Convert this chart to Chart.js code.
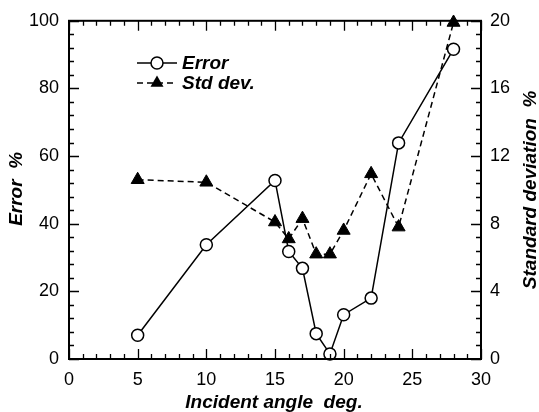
<!DOCTYPE html>
<html>
<head>
<meta charset="utf-8">
<script src="https://cdn.jsdelivr.net/npm/chart.js@4/dist/chart.umd.min.js"></script>
<style>
html,body{margin:0;padding:0;background:#fff;}
#wrap{width:539px;height:412px;position:relative;}
</style>
</head>
<body>
<div id="wrap"><canvas id="c" width="539" height="412"></canvas></div>
<script>
const angles = [5, 10, 15, 16, 17, 18, 19, 20, 22, 24, 28];
const errorValues = [7.0, 33.8, 52.8, 31.8, 26.8, 7.5, 1.5, 13.1, 18.0, 63.9, 91.6];
const stdValues = [10.6, 10.45, 8.1, 7.1, 8.3, 6.2, 6.2, 7.6, 10.95, 7.8, 19.9];
const xTicks = [0, 5, 10, 15, 20, 25, 30];
const leftTicks = [0, 20, 40, 60, 80, 100];
const rightTicks = [0, 4, 8, 12, 16, 20];
const seriesNames = ['Error', 'Std dev.'];
const xTitle = 'Incident angle  deg.';
const yTitle = 'Error  %';
const y2Title = 'Standard deviation  %';

const FONT = '"Liberation Sans", Arial, sans-serif';

const decor = {
  id: 'decor',
  afterDraw(chart) {
    const ctx = chart.ctx;
    const a = chart.chartArea;
    const sx = chart.scales.x, sy = chart.scales.y, sy2 = chart.scales.y2;
    ctx.save();
    ctx.strokeStyle = '#000';
    // ticks
    ctx.lineWidth = 1.3;
    ctx.beginPath();
    for (let v = 0; v <= 30; v += 1) {
      const px = Math.round(sx.getPixelForValue(v)) + 0.5;
      const len = (v % 5 === 0) ? 10 : 5;
      ctx.moveTo(px, a.bottom); ctx.lineTo(px, a.bottom - len);
      ctx.moveTo(px, a.top); ctx.lineTo(px, a.top + len);
    }
    for (let v = 0; v <= 100; v += 4) {
      const py = Math.round(sy.getPixelForValue(v)) + 0.5;
      const len = (v % 20 === 0) ? 10 : 5;
      ctx.moveTo(a.left, py); ctx.lineTo(a.left + len, py);
    }
    for (let i = 0; i <= 25; i++) {
      const v = i * 0.8;
      const py = Math.round(sy2.getPixelForValue(v)) + 0.5;
      const len = (i % 5 === 0) ? 10 : 5;
      ctx.moveTo(a.right, py); ctx.lineTo(a.right - len, py);
    }
    ctx.stroke();
    // frame
    ctx.lineWidth = 2;
    ctx.strokeRect(a.left, a.top, a.right - a.left, a.bottom - a.top);

    // titles
    ctx.fillStyle = '#000';
    ctx.font = 'italic bold 19px ' + FONT;
    ctx.textAlign = 'center';
    ctx.textBaseline = 'middle';
    ctx.fillText(xTitle, (a.left + a.right) / 2 - 1, 403);
    ctx.save();
    ctx.translate(17, (a.top + a.bottom) / 2 - 1);
    ctx.rotate(-Math.PI / 2);
    ctx.fillText(yTitle, 0, 0);
    ctx.restore();
    ctx.save();
    ctx.translate(531, (a.top + a.bottom) / 2);
    ctx.rotate(-Math.PI / 2);
    ctx.fillText(y2Title, 0, 0);
    ctx.restore();

    // legend
    const lx0 = 137, lx1 = 177, lxm = 157;
    const ly1 = 63, ly2 = 83;
    ctx.lineWidth = 1.5;
    ctx.beginPath(); ctx.moveTo(lx0, ly1); ctx.lineTo(lx1, ly1); ctx.stroke();
    ctx.beginPath(); ctx.arc(lxm, ly1, 6, 0, Math.PI * 2);
    ctx.fillStyle = '#fff'; ctx.fill(); ctx.stroke();
    ctx.setLineDash([6, 4]);
    ctx.beginPath(); ctx.moveTo(lx0, ly2); ctx.lineTo(lx1, ly2); ctx.stroke();
    ctx.setLineDash([]);
    const r = 7.5;
    ctx.beginPath();
    ctx.moveTo(lxm, ly2 - r);
    ctx.lineTo(lxm + r * Math.sin(2 * Math.PI / 3), ly2 + r / 2);
    ctx.lineTo(lxm - r * Math.sin(2 * Math.PI / 3), ly2 + r / 2);
    ctx.closePath();
    ctx.fillStyle = '#000'; ctx.fill();
    ctx.font = 'italic bold 19px ' + FONT;
    ctx.textAlign = 'left';
    ctx.fillText(seriesNames[0], 182, ly1 + 1);
    ctx.fillText(seriesNames[1], 182, ly2 + 1);
    ctx.restore();
  }
};

new Chart(document.getElementById('c'), {
  type: 'line',
  data: {
    labels: angles,
    datasets: [
      {
        label: seriesNames[1],
        data: angles.map((a, i) => ({x: a, y: stdValues[i]})),
        yAxisID: 'y2',
        borderColor: '#000',
        borderWidth: 1.5,
        borderDash: [6, 4],
        pointStyle: 'triangle',
        pointRadius: 7.5,
        pointBackgroundColor: '#000',
        pointBorderColor: '#000',
        pointBorderWidth: 1,
        tension: 0,
        fill: false,
        clip: false
      },
      {
        label: seriesNames[0],
        data: angles.map((a, i) => ({x: a, y: errorValues[i]})),
        yAxisID: 'y',
        borderColor: '#000',
        borderWidth: 1.5,
        pointStyle: 'circle',
        pointRadius: 6,
        pointBackgroundColor: '#fff',
        pointBorderColor: '#000',
        pointBorderWidth: 1.5,
        tension: 0,
        fill: false,
        clip: false
      }
    ]
  },
  options: {
    responsive: false,
    animation: false,
    events: [],
    layout: {padding: {top: 18, right: 0, left: 0, bottom: 0}},
    plugins: {legend: {display: false}, tooltip: {enabled: false}},
    scales: {
      x: {
        type: 'linear', position: 'bottom', min: 0, max: 30,
        afterBuildTicks: s => { s.ticks = xTicks.map(v => ({value: v})); },
        afterFit: s => { s.height = 53; },
        grid: {display: false, drawTicks: false},
        border: {display: false},
        ticks: {color: '#000', font: {family: FONT, size: 18}, padding: 10, maxRotation: 0, autoSkip: false}
      },
      y: {
        type: 'linear', position: 'left', min: 0, max: 100,
        afterBuildTicks: s => { s.ticks = leftTicks.map(v => ({value: v})); },
        afterFit: s => { s.width = 69; },
        grid: {display: false, drawTicks: false},
        border: {display: false},
        ticks: {color: '#000', font: {family: FONT, size: 18}, padding: 10}
      },
      y2: {
        type: 'linear', position: 'right', min: 0, max: 20,
        afterBuildTicks: s => { s.ticks = rightTicks.map(v => ({value: v})); },
        afterFit: s => { s.width = 58; },
        grid: {display: false, drawTicks: false},
        border: {display: false},
        ticks: {color: '#000', font: {family: FONT, size: 18}, padding: 9}
      }
    }
  },
  plugins: [decor]
});
</script>
</body>
</html>
